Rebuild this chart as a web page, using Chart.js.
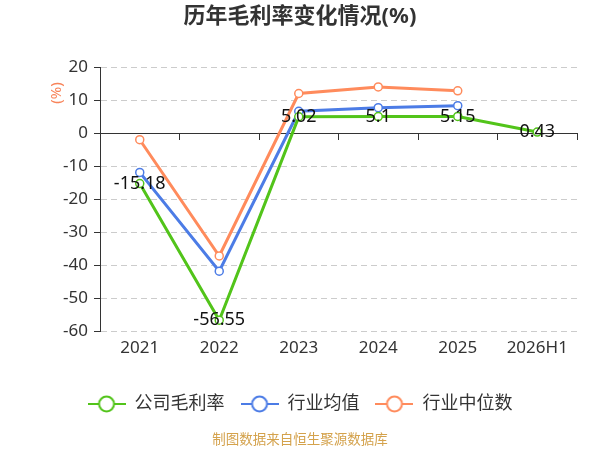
<!DOCTYPE html>
<html>
<head>
<meta charset="utf-8">
<script src="https://cdn.jsdelivr.net/npm/chart.js@4"></script>
<style>
  html, body { margin: 0; padding: 0; background: #fff; }
  #wrap { width: 600px; height: 450px; }
</style>
</head>
<body>
<div id="wrap"><canvas id="mlChart" width="600" height="450"></canvas></div>
<script>
// 类目
const categories = ["2021", "2022", "2023", "2024", "2025", "2026H1"];

// 系列数据
const companyRate = [-15.18, -56.55, 5.02, 5.1, 5.15, 0.43];
const industryMean = [-11.8, -41.7, 6.7, 7.8, 8.4, null];
const industryMedian = [-1.9, -37.1, 12.1, 14.1, 12.9, null];

// 纵轴刻度
const yMin = -60;
const yMax = 20;
const yStep = 10;

const seriesNames = ["公司毛利率", "行业均值", "行业中位数"];
const colors = ["#52c41a", "#4c7ce6", "#ff8b5c"];

const fontFamily = "'Noto Sans', 'Noto Sans CJK SC', sans-serif";

// 图例图标: 线 + 空心圆
function legendIcon(color) {
    const c = document.createElement("canvas");
    c.width = 38;
    c.height = 18;
    const g = c.getContext("2d");
    g.strokeStyle = color;
    g.lineWidth = 2;
    g.beginPath();
    g.moveTo(0, 9);
    g.lineTo(38, 9);
    g.stroke();
    g.beginPath();
    g.arc(19, 9, 7.5, 0, Math.PI * 2);
    g.fillStyle = "#fff";
    g.fill();
    g.stroke();
    return c;
}
const icons = colors.map(legendIcon);

// 数据标签 + 纵轴单位 + 来源
const extraText = {
    id: "extraText",
    afterDatasetsDraw(chart) {
        const ctx = chart.ctx;
        const meta = chart.getDatasetMeta(0);
        ctx.save();
        ctx.font = "18px " + fontFamily;
        ctx.fillStyle = "#111";
        ctx.textAlign = "center";
        ctx.textBaseline = "middle";
        meta.data.forEach((pt, i) => {
            ctx.fillText(String(companyRate[i]), pt.x, pt.y);
        });
        ctx.restore();
    },
    afterDraw(chart) {
        const ctx = chart.ctx;
        ctx.save();
        ctx.font = "15px " + fontFamily;
        ctx.fillStyle = "#f8845a";
        ctx.textAlign = "center";
        ctx.textBaseline = "middle";
        ctx.translate(57, 93);
        ctx.rotate(-Math.PI / 2);
        ctx.fillText("(%)", 0, 0);
        ctx.restore();

        ctx.save();
        ctx.font = "13.5px " + fontFamily;
        ctx.fillStyle = "#d4a24c";
        ctx.textAlign = "center";
        ctx.textBaseline = "middle";
        ctx.fillText("制图数据来自恒生聚源数据库", 300, 440);
        ctx.restore();
    }
};

const ctx = document.getElementById("mlChart").getContext("2d");

new Chart(ctx, {
    type: "line",
    data: {
        labels: categories,
        datasets: [companyRate, industryMean, industryMedian].map((vals, i) => ({
            label: seriesNames[i],
            data: vals,
            borderColor: colors[i],
            backgroundColor: "#fff",
            borderWidth: 3,
            pointRadius: 4,
            pointBorderWidth: 1.5,
            pointBackgroundColor: "#fff",
            pointBorderColor: colors[i],
            tension: 0,
            spanGaps: false
        }))
    },
    options: {
        responsive: false,
        animation: false,
        layout: {
            padding: { left: 0, right: 0, top: 0, bottom: 27 }
        },
        scales: {
            x: {
                offset: true,
                afterFit(scale) { scale.height += 15; },
                grid: { display: false, drawTicks: false },
                border: { display: false },
                ticks: {
                    color: "#333",
                    padding: 6,
                    font: { size: 17, family: fontFamily }
                }
            },
            x2: {
                type: "category",
                labels: categories,
                position: { y: 0 },
                offset: true,
                grid: {
                    offset: true,
                    drawOnChartArea: false,
                    drawTicks: true,
                    tickLength: 6,
                    color: "#333"
                },
                border: { display: true, color: "#333", width: 1 },
                ticks: { display: false }
            },
            y: {
                min: yMin,
                max: yMax,
                afterFit(scale) { scale.width = 100; },
                ticks: {
                    stepSize: yStep,
                    color: "#333",
                    padding: 6,
                    font: { size: 17, family: fontFamily }
                },
                grid: {
                    color: c => (c.tick && c.tick.value === 0) ? "#333" : "#cccccc",
                    tickColor: "#333",
                    tickLength: 6
                },
                border: {
                    display: true,
                    color: "#333",
                    dash: c => (c.tick && c.tick.value === 0) ? [] : [6, 4]
                }
            },
            // 右侧留白
            yRight: {
                position: "right",
                min: yMin,
                max: yMax,
                afterFit(scale) { scale.width = 23; },
                ticks: { display: false },
                grid: { display: false, drawTicks: false },
                border: { display: false }
            }
        },
        plugins: {
            title: {
                display: true,
                text: "历年毛利率变化情况(%)",
                color: "#333",
                font: { size: 22, weight: "bold", family: fontFamily },
                padding: { top: 4, bottom: 37 }
            },
            legend: {
                position: "bottom",
                labels: {
                    usePointStyle: true,
                    pointStyleWidth: 38,
                    boxHeight: 17,
                    padding: 16,
                    color: "#333",
                    font: { size: 18, family: fontFamily },
                    generateLabels(chart) {
                        const items = Chart.defaults.plugins.legend.labels.generateLabels(chart);
                        return items.map(it => Object.assign(it, { pointStyle: icons[it.datasetIndex] }));
                    }
                },
                onClick: null
            },
            tooltip: { enabled: false }
        }
    },
    plugins: [extraText]
});
</script>
</body>
</html>
